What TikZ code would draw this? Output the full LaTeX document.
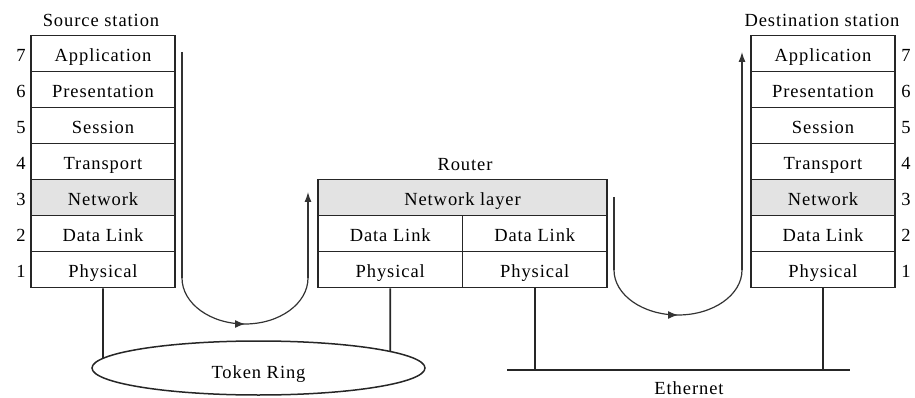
\documentclass[tikz,border=0pt]{standalone}
\usepackage{fontspec}
\setmainfont{Liberation Serif}[LetterSpace=5]
\usetikzlibrary{shapes.geometric,arrows.meta,decorations.markings,intersections}
\newcommand{\lfont}{\fontsize{18.5pt}{22pt}\selectfont}
\begin{document}
\begin{tikzpicture}[x=1pt,y=-1pt,
  every node/.style={font=\lfont, text=black},
  cell/.style={draw=black!85, line width=1.6pt, minimum width=144pt, minimum height=36pt, inner sep=0pt, text height=16.6pt, text depth=0pt},
  netcell/.style={cell, fill=gray!22},
  wide/.style={cell, minimum width=289pt},
  num/.style={anchor=base, inner sep=0pt},
  lbl/.style={anchor=base, inner sep=0pt},
  wire/.style={draw=black!85, line width=1.6pt},
  flow/.style={draw=black!80, line width=1.2pt},
  tipup/.style={-{Latex[length=10pt,width=7pt]}},
  midarrow/.style={postaction={decorate}, decoration={markings, mark=at position 0.5 with {\arrow{Latex[length=10pt,width=8pt]}}}}
]
\useasboundingbox (0,0) rectangle (915,398);

% Source station
\node[lbl] (stitle) at (101,27) {Source station};
\node[cell]    (sapp)  at (103,53.5)  {Application};
\node[cell]    (spres) at (103,89.5)  {Presentation};
\node[cell]    (ssess) at (103,125.5) {Session};
\node[cell]    (strans) at (103,161.5) {Transport};
\node[netcell] (snet)  at (103,197.5) {Network};
\node[cell]    (sdl)   at (103,233.5) {Data Link};
\node[cell]    (sphys) at (103,269.5) {Physical};
\node[num] (sn7) at (21,61.8)  {7};
\node[num] (sn6) at (21,97.8)  {6};
\node[num] (sn5) at (21,133.8) {5};
\node[num] (sn4) at (21,169.8) {4};
\node[num] (sn3) at (21,205.8) {3};
\node[num] (sn2) at (21,241.8) {2};
\node[num] (sn1) at (21,277.8) {1};

% Router
\node[lbl] (rtitle) at (465,171) {Router};
\node[wide, fill=gray!22] (rnet) at (462.5,197.5) {Network layer};
\node[cell, minimum width=144.5pt] (rdl1)   at (390.25,233.5) {Data Link};
\node[cell, minimum width=144.5pt] (rdl2)   at (534.75,233.5) {Data Link};
\node[cell, minimum width=144.5pt] (rphys1) at (390.25,269.5) {Physical};
\node[cell, minimum width=144.5pt] (rphys2) at (534.75,269.5) {Physical};

% Destination station
\node[lbl] (dtitle) at (822,27) {Destination station};
\node[cell]    (dapp)  at (823,53.5)  {Application};
\node[cell]    (dpres) at (823,89.5)  {Presentation};
\node[cell]    (dsess) at (823,125.5) {Session};
\node[cell]    (dtrans) at (823,161.5) {Transport};
\node[netcell] (dnet)  at (823,197.5) {Network};
\node[cell]    (ddl)   at (823,233.5) {Data Link};
\node[cell]    (dphys) at (823,269.5) {Physical};
\node[num] (dn7) at (906,61.8)  {7};
\node[num] (dn6) at (906,97.8)  {6};
\node[num] (dn5) at (906,133.8) {5};
\node[num] (dn4) at (906,169.8) {4};
\node[num] (dn3) at (906,205.8) {3};
\node[num] (dn2) at (906,241.8) {2};
\node[num] (dn1) at (906,277.8) {1};

% Token Ring
\node[ellipse, draw=black!85, line width=1.5pt, minimum width=333pt, minimum height=54pt, inner sep=0pt, text height=20pt, text depth=0pt] (ring) at (258.5,368) {Token Ring};
\path[name path=ringp] (258.5,368) ellipse [x radius=166.5pt, y radius=27pt];
\path[name path=v1] (sphys.south) -- ++(0,120);
\path[name path=v2] (rphys1.south) -- ++(0,120);
\draw[wire, name intersections={of=v1 and ringp, name=a}] (sphys.south) -- (a-1);
\draw[wire, name intersections={of=v2 and ringp, name=b}] (rphys1.south) -- (b-1);

% Ethernet
\coordinate (eth1) at (507,370);
\coordinate (eth2) at (850,370);
\draw[wire] (eth1) -- (eth2);
\draw[wire] (rphys2.south) -- (rphys2.south |- eth1);
\draw[wire] (dphys.south) -- (dphys.south |- eth1);
\node[lbl] (ethlbl) at (689,394) {Ethernet};

% Flow source -> router
\coordinate (l1) at (182,52);
\coordinate (l2) at (182,278);
\coordinate (l3) at (308,278);
\coordinate (l4) at (308,192);
\draw[flow] (l1) -- (l2);
\draw[flow, midarrow] (l2) arc[start angle=180, end angle=360, x radius=63pt, y radius=46pt];
\draw[flow, tipup] (l3) -- (l4);

% Flow router -> destination
\coordinate (r1) at (614,197);
\coordinate (r2) at (614,270);
\coordinate (r3) at (742,270);
\coordinate (r4) at (742,52);
\draw[flow] (r1) -- (r2);
\draw[flow, midarrow] (r2) arc[start angle=180, end angle=360, x radius=64pt, y radius=45pt];
\draw[flow, tipup] (r3) -- (r4);
\end{tikzpicture}
\end{document}
